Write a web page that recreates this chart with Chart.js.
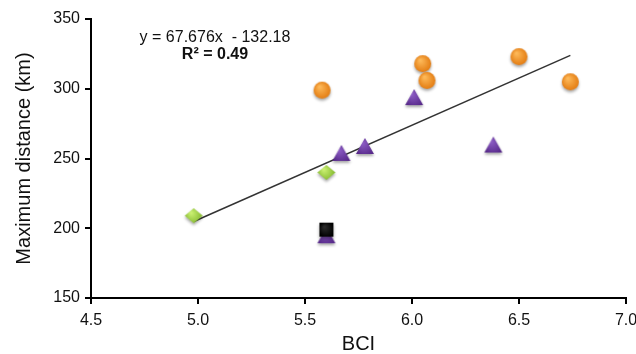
<!DOCTYPE html>
<html>
<head>
<meta charset="utf-8">
<script src="https://cdn.jsdelivr.net/npm/chart.js@4.4.1/dist/chart.umd.min.js"></script>
<style>
  html, body { margin: 0; padding: 0; background: #fff; overflow: hidden; }
  #chart { display: block; }
</style>
</head>
<body>
<canvas id="chart" width="636" height="354"></canvas>
<script>
// Data
const circleX = [5.58, 6.05, 6.07, 6.50, 6.74];
const circleY = [299, 318, 306, 323, 305];
const triangleX = [5.60, 5.67, 5.78, 6.01, 6.38];
const triangleY = [195, 254, 259, 294, 260];
const diamondX = [4.98, 5.60];
const diamondY = [209, 240];
const squareX = [5.60];
const squareY = [199];

const slope = 67.676;
const intercept = -132.18;
const trendX = [4.98, 6.74];

const xTicks = [4.5, 5.0, 5.5, 6.0, 6.5, 7.0];
const yTicks = [150, 200, 250, 300, 350];

const toPoints = (xs, ys) => xs.map((x, i) => ({ x: x, y: ys[i] }));
const FONT = '"Liberation Sans", Arial, sans-serif';

// shaded marker images, roughly like the glossy symbols of the original
function makeMarker(shape, light, dark, w, h) {
    const pad = 5;
    const c = document.createElement('canvas');
    c.width = w + pad * 2;
    c.height = h + pad * 2;
    const ctx = c.getContext('2d');
    const cx = c.width / 2, cy = c.height / 2, rx = w / 2, ry = h / 2;
    ctx.shadowColor = 'rgba(0,0,0,0.35)';
    ctx.shadowBlur = 3;
    ctx.shadowOffsetY = 2;
    const g = ctx.createRadialGradient(cx - rx * 0.3, cy - ry * 0.4, rx * 0.1, cx, cy, rx * 1.1);
    g.addColorStop(0, light);
    g.addColorStop(1, dark);
    ctx.fillStyle = g;
    ctx.beginPath();
    if (shape === 'circle') {
        ctx.arc(cx, cy, rx, 0, Math.PI * 2);
    } else if (shape === 'triangle') {
        ctx.moveTo(cx, cy - ry);
        ctx.lineTo(cx + rx, cy + ry);
        ctx.lineTo(cx - rx, cy + ry);
        ctx.closePath();
    } else if (shape === 'diamond') {
        ctx.moveTo(cx, cy - ry);
        ctx.lineTo(cx + rx, cy);
        ctx.lineTo(cx, cy + ry);
        ctx.lineTo(cx - rx, cy);
        ctx.closePath();
    } else {
        ctx.rect(cx - rx, cy - ry, w, h);
    }
    ctx.fill();
    return c;
}

const circleImg = makeMarker('circle', '#fdb858', '#e2790e', 17, 17);
const triangleImg = makeMarker('triangle', '#8c5cc4', '#57298a', 18, 16);
const diamondImg = makeMarker('diamond', '#c8ee70', '#7cb327', 18, 15);
const squareImg = makeMarker('square', '#2a2a2a', '#000', 14, 14);

const equationText = {
    id: 'equationText',
    afterDraw(chart) {
        const ctx = chart.ctx;
        ctx.save();
        ctx.fillStyle = '#111';
        ctx.textAlign = 'center';
        ctx.textBaseline = 'middle';
        ctx.font = '16px ' + FONT;
        ctx.fillText('y = 67.676x  - 132.18', 215, 38);
        ctx.font = 'bold 16px ' + FONT;
        ctx.fillText('R² = 0.49', 215, 55);
        ctx.restore();
    }
};

new Chart(document.getElementById('chart'), {
    type: 'scatter',
    data: {
        datasets: [
            { label: 'square', data: toPoints(squareX, squareY), pointStyle: squareImg },
            { label: 'triangle', data: toPoints(triangleX, triangleY), pointStyle: triangleImg },
            { label: 'diamond', data: toPoints(diamondX, diamondY), pointStyle: diamondImg },
            { label: 'circle', data: toPoints(circleX, circleY), pointStyle: circleImg },
            {
                label: 'trend',
                type: 'line',
                data: trendX.map(x => ({ x: x, y: slope * x + intercept })),
                borderColor: '#333',
                borderWidth: 1.5,
                pointRadius: 0,
                fill: false
            }
        ]
    },
    options: {
        responsive: false,
        animation: false,
        devicePixelRatio: 1,
        layout: { padding: { top: 19, right: 0, left: 0, bottom: 0 } },
        plugins: { legend: { display: false }, tooltip: { enabled: false } },
        scales: {
            x: {
                type: 'linear',
                min: 4.5,
                max: 7.0,
                afterBuildTicks: s => { s.ticks = xTicks.map(v => ({ value: v })); },
                afterFit: s => { s.height = 56; s.paddingRight = 10; },
                border: { display: true, color: '#000', width: 2 },
                grid: { drawOnChartArea: false, drawTicks: true, tickLength: 6, color: '#000', lineWidth: 2 },
                ticks: {
                    color: '#111',
                    padding: 7,
                    font: { family: FONT, size: 16 },
                    callback: v => v.toFixed(1)
                },
                title: {
                    display: true,
                    text: 'BCI',
                    color: '#111',
                    padding: { top: 0, bottom: 0 },
                    font: { family: FONT, size: 20, lineHeight: 1 }
                }
            },
            y: {
                min: 150,
                max: 350,
                afterBuildTicks: s => { s.ticks = yTicks.map(v => ({ value: v })); },
                afterFit: s => { s.width = 91; },
                border: { display: true, color: '#000', width: 2 },
                grid: { drawOnChartArea: false, drawTicks: true, tickLength: 6, color: '#000', lineWidth: 2 },
                ticks: {
                    color: '#111',
                    padding: 5,
                    font: { family: FONT, size: 16 }
                },
                title: {
                    display: true,
                    text: 'Maximum distance (km)',
                    color: '#111',
                    padding: { top: 14, bottom: 0 },
                    font: { family: FONT, size: 20, lineHeight: 1 }
                }
            }
        }
    },
    plugins: [equationText]
});
</script>
</body>
</html>
